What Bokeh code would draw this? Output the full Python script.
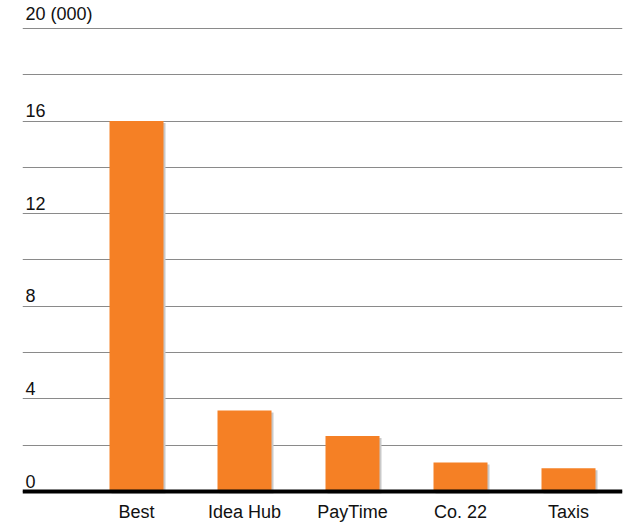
from bokeh.plotting import figure
from bokeh.models import Range1d, FixedTicker, Span
from bokeh.core.properties import value
from bokeh.embed import file_html
from bokeh.resources import INLINE

# Data (thousands)
companies = ["Best", "Idea Hub", "PayTime", "Co. 22", "Taxis"]
amounts = [16.0, 3.5, 2.4, 1.25, 1.0]
grid_ticks = [0, 2, 4, 6, 8, 10, 12, 14, 16, 18, 20]
label_ticks = [0, 4, 8, 12, 16, 20]
label_texts = ["0", "4", "8", "12", "16", "20 (000)"]

FONT = "Liberation Sans"
BAR_COLOR = "#f58025"

# Frame geometry: 600 x 490 px, 23.2 px per thousand vertically
frame_w, frame_h = 600, 490
px_per_unit = 23.2
x_start, x_end = -1.0556, 4.5
y_start = -3 / px_per_unit
y_end = y_start + frame_h / px_per_unit
px_x = (x_end - x_start) / frame_w
px_y = 1 / px_per_unit

xs = list(range(len(companies)))

p = figure(width=631, height=524, output_backend="svg", toolbar_location=None,
           x_range=Range1d(x_start, x_end), y_range=Range1d(y_start, y_end),
           y_axis_location=None, min_border_left=22, min_border_right=9,
           min_border_top=5, min_border_bottom=29)
p.outline_line_color = None
p.background_fill_color = "white"
p.border_fill_color = "white"

# horizontal gridlines
p.xgrid.visible = False
p.ygrid.ticker = FixedTicker(ticks=grid_ticks)
p.ygrid.grid_line_color = "#8a8a8a"
p.ygrid.grid_line_width = 1

# category axis
p.xaxis.ticker = FixedTicker(ticks=xs)
p.xaxis.major_label_overrides = {i: c for i, c in enumerate(companies)}
p.xaxis.axis_line_color = None
p.xaxis.major_tick_line_color = None
p.xaxis.minor_tick_line_color = None
p.xaxis.major_tick_out = 0
p.xaxis.major_tick_in = 0
p.xaxis.major_label_standoff = 7
p.xaxis.major_label_text_font = FONT
p.xaxis.major_label_text_font_size = "18px"
p.xaxis.major_label_text_color = "#111111"

# drop shadows behind the bars
p.vbar(x=[x + 2 * px_x for x in xs], width=0.5,
       top=[a - 2 * px_y for a in amounts], bottom=-2 * px_y,
       fill_color="#c9c9c9", line_color=None)
# bars
p.vbar(x=xs, width=0.5, top=amounts, bottom=0,
       fill_color=BAR_COLOR, line_color=None)

# baseline
p.add_layout(Span(location=0, dimension="width", line_color="black", line_width=4))

# value labels sitting just above their gridlines
p.text(x=[x_start + 3 * px_x] * len(label_ticks),
       y=label_ticks, text=label_texts, y_offset=-4,
       text_font=value(FONT), text_font_size="18px",
       text_color="#111111", text_baseline="bottom", text_align="left")

open("out.html", "w").write(file_html(p, INLINE))
